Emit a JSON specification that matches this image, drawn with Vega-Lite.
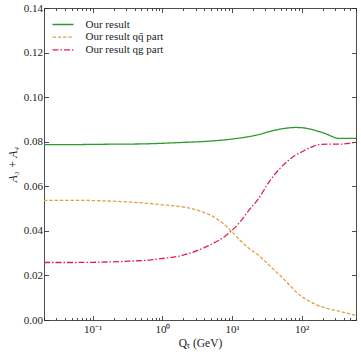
{
  "$schema": "https://vega.github.io/schema/vega-lite/v6.json",
  "width": 312,
  "height": 312,
  "autosize": "none",
  "padding": {"left": 44, "top": 8, "right": 5, "bottom": 35},
  "background": "white",
  "config": {
    "view": {"stroke": null},
    "font": "Liberation Serif",
    "axis": {"labelFont": "Liberation Serif", "titleFont": "Liberation Serif", "labelFontSize": 11, "titleFontSize": 11.5, "titleFontWeight": "normal", "labelColor": "#222", "titleColor": "#222", "domainColor": "#222", "tickColor": "#222", "grid": false, "domainWidth": 0.8, "tickWidth": 0.8}
  },
  "data": {"values": [
    {"Q": 0.02, "v": 0.0787, "s": "Our result"},
    {"Q": 0.05, "v": 0.0787, "s": "Our result"},
    {"Q": 0.1, "v": 0.0788, "s": "Our result"},
    {"Q": 0.2, "v": 0.0789, "s": "Our result"},
    {"Q": 0.5, "v": 0.0790, "s": "Our result"},
    {"Q": 1, "v": 0.0793, "s": "Our result"},
    {"Q": 2, "v": 0.0797, "s": "Our result"},
    {"Q": 5, "v": 0.0803, "s": "Our result"},
    {"Q": 10, "v": 0.0812, "s": "Our result"},
    {"Q": 17.5, "v": 0.0823, "s": "Our result"},
    {"Q": 24, "v": 0.0832, "s": "Our result"},
    {"Q": 35, "v": 0.0846, "s": "Our result"},
    {"Q": 50, "v": 0.0857, "s": "Our result"},
    {"Q": 65, "v": 0.0862, "s": "Our result"},
    {"Q": 80, "v": 0.0864, "s": "Our result"},
    {"Q": 100, "v": 0.0863, "s": "Our result"},
    {"Q": 130, "v": 0.0857, "s": "Our result"},
    {"Q": 170, "v": 0.0847, "s": "Our result"},
    {"Q": 220, "v": 0.0836, "s": "Our result"},
    {"Q": 270, "v": 0.0824, "s": "Our result"},
    {"Q": 310, "v": 0.0817, "s": "Our result"},
    {"Q": 350, "v": 0.0815, "s": "Our result"},
    {"Q": 450, "v": 0.0815, "s": "Our result"},
    {"Q": 600, "v": 0.0815, "s": "Our result"},
    {"Q": 0.02, "v": 0.0537, "s": "Our result qq̄ part"},
    {"Q": 0.05, "v": 0.0537, "s": "Our result qq̄ part"},
    {"Q": 0.1, "v": 0.0536, "s": "Our result qq̄ part"},
    {"Q": 0.2, "v": 0.0533, "s": "Our result qq̄ part"},
    {"Q": 0.4, "v": 0.0528, "s": "Our result qq̄ part"},
    {"Q": 0.65, "v": 0.0523, "s": "Our result qq̄ part"},
    {"Q": 1, "v": 0.0517, "s": "Our result qq̄ part"},
    {"Q": 1.5, "v": 0.0512, "s": "Our result qq̄ part"},
    {"Q": 2, "v": 0.0507, "s": "Our result qq̄ part"},
    {"Q": 3, "v": 0.0495, "s": "Our result qq̄ part"},
    {"Q": 4, "v": 0.0482, "s": "Our result qq̄ part"},
    {"Q": 6, "v": 0.0455, "s": "Our result qq̄ part"},
    {"Q": 8, "v": 0.0425, "s": "Our result qq̄ part"},
    {"Q": 10, "v": 0.0395, "s": "Our result qq̄ part"},
    {"Q": 13, "v": 0.0358, "s": "Our result qq̄ part"},
    {"Q": 17.5, "v": 0.0321, "s": "Our result qq̄ part"},
    {"Q": 24, "v": 0.0290, "s": "Our result qq̄ part"},
    {"Q": 30, "v": 0.0262, "s": "Our result qq̄ part"},
    {"Q": 40, "v": 0.0225, "s": "Our result qq̄ part"},
    {"Q": 54, "v": 0.0187, "s": "Our result qq̄ part"},
    {"Q": 70, "v": 0.0150, "s": "Our result qq̄ part"},
    {"Q": 93, "v": 0.0112, "s": "Our result qq̄ part"},
    {"Q": 125, "v": 0.0087, "s": "Our result qq̄ part"},
    {"Q": 163, "v": 0.0068, "s": "Our result qq̄ part"},
    {"Q": 230, "v": 0.0052, "s": "Our result qq̄ part"},
    {"Q": 316, "v": 0.0042, "s": "Our result qq̄ part"},
    {"Q": 450, "v": 0.0031, "s": "Our result qq̄ part"},
    {"Q": 600, "v": 0.0020, "s": "Our result qq̄ part"},
    {"Q": 0.02, "v": 0.0258, "s": "Our result qg part"},
    {"Q": 0.05, "v": 0.0258, "s": "Our result qg part"},
    {"Q": 0.1, "v": 0.0259, "s": "Our result qg part"},
    {"Q": 0.2, "v": 0.0261, "s": "Our result qg part"},
    {"Q": 0.4, "v": 0.0265, "s": "Our result qg part"},
    {"Q": 0.65, "v": 0.0269, "s": "Our result qg part"},
    {"Q": 1, "v": 0.0276, "s": "Our result qg part"},
    {"Q": 1.75, "v": 0.0287, "s": "Our result qg part"},
    {"Q": 2.5, "v": 0.0300, "s": "Our result qg part"},
    {"Q": 4, "v": 0.0325, "s": "Our result qg part"},
    {"Q": 6, "v": 0.0352, "s": "Our result qg part"},
    {"Q": 8, "v": 0.0377, "s": "Our result qg part"},
    {"Q": 9.5, "v": 0.0396, "s": "Our result qg part"},
    {"Q": 13, "v": 0.0440, "s": "Our result qg part"},
    {"Q": 17.5, "v": 0.0493, "s": "Our result qg part"},
    {"Q": 24, "v": 0.0545, "s": "Our result qg part"},
    {"Q": 34, "v": 0.0620, "s": "Our result qg part"},
    {"Q": 48, "v": 0.0678, "s": "Our result qg part"},
    {"Q": 65, "v": 0.0717, "s": "Our result qg part"},
    {"Q": 80, "v": 0.0738, "s": "Our result qg part"},
    {"Q": 104, "v": 0.0757, "s": "Our result qg part"},
    {"Q": 140, "v": 0.0777, "s": "Our result qg part"},
    {"Q": 175, "v": 0.0787, "s": "Our result qg part"},
    {"Q": 250, "v": 0.0789, "s": "Our result qg part"},
    {"Q": 347, "v": 0.0789, "s": "Our result qg part"},
    {"Q": 450, "v": 0.0792, "s": "Our result qg part"},
    {"Q": 600, "v": 0.0798, "s": "Our result qg part"}
  ]},
  "layer": [
    {
      "mark": {"type": "line", "strokeWidth": 1.3, "interpolate": "monotone"},
      "encoding": {
        "x": {"field": "Q", "type": "quantitative",
          "scale": {"type": "log", "domain": [0.02, 600], "nice": false},
          "axis": {"orient": "bottom", "title": "Qₜ (GeV)",
            "values": [0.02,0.03,0.04,0.05,0.06,0.07,0.08,0.09,0.1,0.2,0.3,0.4,0.5,0.6,0.7,0.8,0.9,1,2,3,4,5,6,7,8,9,10,20,30,40,50,60,70,80,90,100,200,300,400,500,600],
            "labelExpr": "datum.value == 0.1 ? '10⁻¹' : datum.value == 1 ? '10⁰' : datum.value == 10 ? '10¹' : datum.value == 100 ? '10²' : ''",
            "tickSize": {"condition": {"test": "datum.value == 0.1 || datum.value == 1 || datum.value == 10 || datum.value == 100", "value": -4.5}, "value": -2.5},
            "labelPadding": 8, "titlePadding": 1, "labelFlush": false, "labelOverlap": false}},
        "y": {"field": "v", "type": "quantitative",
          "scale": {"domain": [0, 0.14], "nice": false, "zero": false},
          "axis": {"orient": "left", "title": "A₃ + A₄", "values": [0,0.02,0.04,0.06,0.08,0.1,0.12,0.14], "format": ".2f",
            "tickSize": -4.5, "labelPadding": 6, "titlePadding": 5, "labelFlush": false, "titleFontStyle": "italic"}},
        "color": {"field": "s", "type": "nominal",
          "scale": {"domain": ["Our result", "Our result qq̄ part", "Our result qg part"], "range": ["#2e9a2e", "#e0a050", "#e0204a"]},
          "legend": {"title": null, "orient": "none", "legendX": 13, "legendY": 10.5, "symbolType": "M-2,0H2", "symbolSize": 110, "symbolStrokeWidth": 1.3, "symbolFillColor": "transparent", "labelFont": "Liberation Serif", "labelFontSize": 11, "labelColor": "#222", "rowPadding": 1.7, "labelOffset": 16.5, "padding": 0}},
        "strokeDash": {"field": "s", "type": "nominal",
          "scale": {"domain": ["Our result", "Our result qq̄ part", "Our result qg part"], "range": [[1, 0], [3.5, 1.8], [6, 2, 1.5, 2]]},
          "legend": {"title": null, "orient": "none", "legendX": 13, "legendY": 10.5, "symbolType": "M-2,0H2", "symbolSize": 110, "symbolStrokeWidth": 1.3, "symbolFillColor": "transparent", "labelFont": "Liberation Serif", "labelFontSize": 11, "labelColor": "#222", "rowPadding": 1.7, "labelOffset": 16.5, "padding": 0}}
      }
    },
    {
      "mark": {"type": "line", "opacity": 0},
      "encoding": {
        "x": {"field": "Q", "type": "quantitative",
          "axis": {"orient": "top", "title": null, "labels": false,
            "values": [0.02,0.03,0.04,0.05,0.06,0.07,0.08,0.09,0.1,0.2,0.3,0.4,0.5,0.6,0.7,0.8,0.9,1,2,3,4,5,6,7,8,9,10,20,30,40,50,60,70,80,90,100,200,300,400,500,600],
            "tickSize": {"condition": {"test": "datum.value == 0.1 || datum.value == 1 || datum.value == 10 || datum.value == 100", "value": -4.5}, "value": -2.5}}},
        "y": {"field": "v", "type": "quantitative",
          "axis": {"orient": "right", "title": null, "labels": false, "values": [0,0.02,0.04,0.06,0.08,0.1,0.12,0.14], "tickSize": -4.5}}
      }
    }
  ],
  "resolve": {"axis": {"x": "independent", "y": "independent"}}
}
